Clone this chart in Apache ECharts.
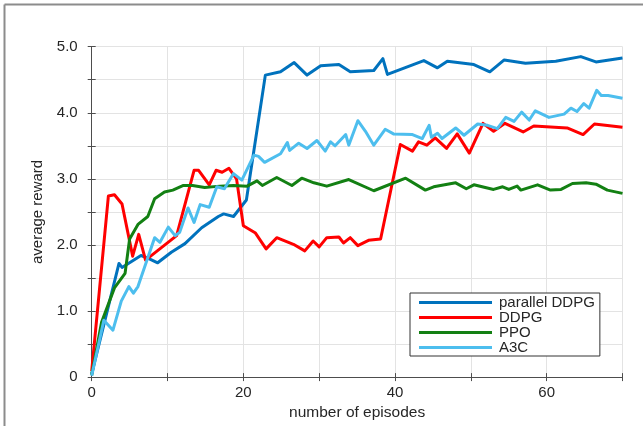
<!DOCTYPE html>
<html>
<head>
<meta charset="utf-8">
<script src="https://cdn.jsdelivr.net/npm/echarts@6/dist/echarts.min.js"></script>
<style>html,body{margin:0;padding:0;background:#fff;}#c{width:643px;height:426px;}</style>
</head>
<body>
<div id="c"></div>
<script>
var seriesNames = ['parallel DDPG', 'DDPG', 'PPO', 'A3C'];
var xTickLabels = ['0', '20', '40', '60'];
var yTickLabels = ['0', '1.0', '2.0', '3.0', '4.0', '5.0'];

var pddpgEp = [0,3.6,4,6.5,7.4,8.7,10.5,12.3,14.5,16.7,17.4,18.7,20.4,22.9,24.9,26.7,28.4,30.2,32.6,34.1,37.2,38.4,39,43.8,45.6,46.9,50.4,52.5,54.4,57.2,61.2,64.5,66.5,70];
var pddpgVal = [0.05,1.72,1.66,1.84,1.80,1.73,1.89,2.02,2.26,2.43,2.47,2.43,2.68,4.57,4.62,4.76,4.57,4.71,4.73,4.62,4.64,4.82,4.58,4.79,4.68,4.78,4.73,4.62,4.80,4.75,4.78,4.85,4.77,4.83];

var ddpgEp = [0,2.2,3,4,5.4,6.2,7.1,11.2,13.5,14.1,15.5,16.4,17.2,18.1,19.1,20,21.6,23,24.4,26.6,28.1,29.2,30,31,32.6,33.2,34.1,35.1,36.5,38.1,40.7,42.3,43.1,44.2,45.3,46.8,48.2,49.8,51.6,53,54.5,56.9,58.3,62.7,64.8,66.3,70];
var ddpgVal = [0.09,2.74,2.76,2.62,1.83,2.16,1.77,2.14,3.13,3.13,2.91,3.13,3.10,3.16,3.0,2.29,2.18,1.94,2.11,2.01,1.91,2.06,1.97,2.11,2.12,2.03,2.11,1.99,2.07,2.09,3.52,3.42,3.56,3.51,3.62,3.46,3.68,3.39,3.84,3.72,3.84,3.71,3.80,3.77,3.67,3.83,3.78];

var ppoEp = [0,1.3,3,4.4,5,6.1,7.4,8.3,9.6,10.7,12.1,13.3,14.9,16.9,18.7,20.5,21.8,22.5,24.4,26.4,27.7,29.3,31,33.9,37.2,41.4,44,45.1,48,49.4,50.4,53,54.2,55,56.1,56.6,58.8,60.5,61.9,63.4,65.2,66.5,68,70];
var ppoVal = [0.03,0.83,1.35,1.57,2.09,2.31,2.43,2.70,2.80,2.83,2.90,2.90,2.87,2.89,2.90,2.89,2.97,2.90,3.02,2.90,3.01,2.94,2.89,2.99,2.82,3.01,2.83,2.88,2.94,2.85,2.91,2.84,2.88,2.84,2.89,2.83,2.91,2.83,2.84,2.93,2.94,2.92,2.83,2.78];

var a3cEp = [0,1.6,2.8,3.9,4.9,5.5,6.1,8.3,9,10.1,11,11.6,12.7,13.5,14.3,15.5,16.5,17.5,18.7,19.8,21.4,22,22.8,24.9,25.8,26.1,27.3,28.4,29.7,30.8,31.5,32.1,33.5,33.9,35.1,36.1,37.2,38.7,39.8,42.3,43.6,44.5,44.8,45.6,46.2,48,49.1,50.9,52.2,53.5,54.6,55.7,56.7,57.7,58.5,60.3,62.3,63.2,64,64.9,65.6,66.6,67.2,68.1,70];
var a3cVal = [0.02,0.86,0.71,1.15,1.37,1.27,1.37,2.11,2.04,2.27,2.14,2.19,2.56,2.34,2.61,2.57,2.88,2.85,3.08,2.98,3.36,3.34,3.25,3.38,3.55,3.43,3.54,3.46,3.58,3.42,3.56,3.50,3.67,3.51,3.88,3.72,3.51,3.75,3.68,3.67,3.61,3.81,3.63,3.69,3.61,3.77,3.66,3.83,3.81,3.76,3.93,3.87,4.01,3.89,4.03,3.93,3.98,4.07,4.02,4.14,4.07,4.34,4.26,4.26,4.22];

var colors = ['#0072BD', '#FF0000', '#138013', '#4DBEEE'];

function pairs(xs, ys) { return xs.map(function (x, i) { return [x, ys[i]]; }); }
var dataSets = [pairs(pddpgEp, pddpgVal), pairs(ddpgEp, ddpgVal), pairs(ppoEp, ppoVal), pairs(a3cEp, a3cVal)];

var textColor = '#262626';
var font = 'Liberation Sans, Arial, sans-serif';
var axisLineStyle = { color: '#4d4d4d', width: 1 };
var gridLine = { show: true, lineStyle: { color: '#e3e3e3', width: 1 } };

function xLabel(v) { var s = String(v); return xTickLabels.indexOf(s) >= 0 ? s : ''; }
function yLabel(v) {
  var r = Math.round(v * 10) / 10;
  var s = r === 0 ? '0' : r.toFixed(1);
  return yTickLabels.indexOf(s) >= 0 ? s : '';
}

var chart = echarts.init(document.getElementById('c'), null, { renderer: 'canvas' });
chart.setOption({
  backgroundColor: '#fff',
  animation: false,
  grid: { left: 91.7, right: 20.5, top: 46.7, bottom: 42.5 },
  graphic: [
    { type: 'line', shape: { x1: 4.5, y1: 4.5, x2: 643, y2: 4.5 }, style: { stroke: '#8c8c8c', lineWidth: 2 } },
    { type: 'line', shape: { x1: 4.5, y1: 4.5, x2: 4.5, y2: 426 }, style: { stroke: '#8c8c8c', lineWidth: 2 } }
  ],
  xAxis: [
    {
      type: 'value', min: 0, max: 70, interval: 10, position: 'bottom',
      name: 'number of episodes', nameLocation: 'middle', nameGap: 24,
      nameTextStyle: { color: textColor, fontSize: 15.5, fontFamily: font },
      axisLine: { show: true, lineStyle: axisLineStyle },
      axisTick: { show: true, inside: true, length: 4, lineStyle: axisLineStyle },
      axisLabel: { color: textColor, fontSize: 15, fontFamily: font, margin: 8, formatter: xLabel },
      splitLine: gridLine
    },
    {
      type: 'value', min: 0, max: 70, interval: 10, position: 'top',
      axisLine: { show: true, lineStyle: axisLineStyle },
      axisTick: { show: true, inside: true, length: 4, lineStyle: axisLineStyle },
      axisLabel: { show: false }, splitLine: { show: false }
    }
  ],
  yAxis: [
    {
      type: 'value', min: 0, max: 5, interval: 0.5, position: 'left',
      name: 'average reward', nameLocation: 'middle', nameGap: 46,
      nameTextStyle: { color: textColor, fontSize: 15, fontFamily: font },
      axisLine: { show: true, lineStyle: axisLineStyle },
      axisTick: { show: true, inside: true, length: 4, lineStyle: axisLineStyle },
      axisLabel: { color: textColor, fontSize: 15, fontFamily: font, margin: 14, formatter: yLabel },
      splitLine: gridLine
    },
    {
      type: 'value', min: 0, max: 5, interval: 0.5, position: 'right',
      axisLine: { show: true, lineStyle: axisLineStyle },
      axisTick: { show: true, inside: true, length: 4, lineStyle: axisLineStyle },
      axisLabel: { show: false }, splitLine: { show: false }
    }
  ],
  legend: {
    orient: 'vertical',
    left: 410, top: 293,
    padding: [2, 5, 1, 9],
    itemGap: 0,
    itemWidth: 73, itemHeight: 3,
    icon: 'rect',
    backgroundColor: '#fff',
    borderColor: '#333',
    borderWidth: 1,
    borderRadius: 0,
    textStyle: { color: textColor, fontSize: 15, fontFamily: font, lineHeight: 14.6, padding: [0, 0, 0, 2] },
    data: seriesNames
  },
  series: seriesNames.map(function (n, i) {
    return {
      name: n, type: 'line', xAxisIndex: 0, yAxisIndex: 0,
      data: dataSets[i], showSymbol: false, symbol: 'none',
      lineStyle: { color: colors[i], width: 3, join: 'round' },
      itemStyle: { color: colors[i] },
      z: 2 + i
    };
  })
});
</script>
</body>
</html>
